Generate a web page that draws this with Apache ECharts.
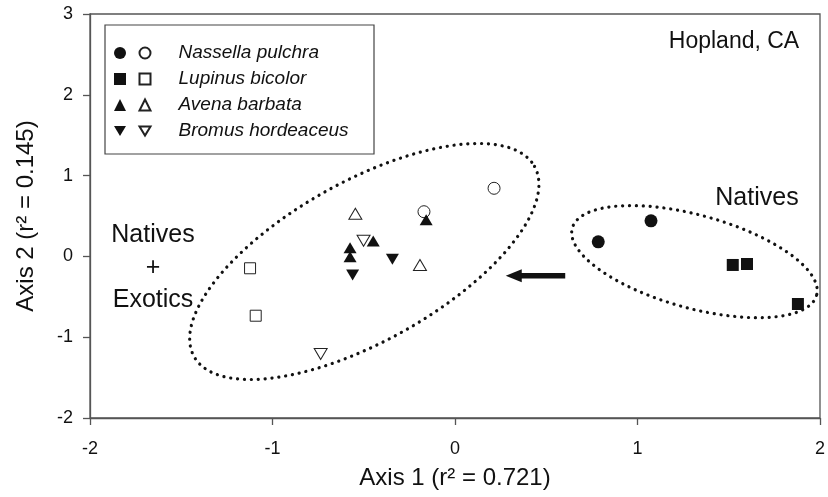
<!DOCTYPE html>
<html>
<head>
<meta charset="utf-8">
<script src="https://cdn.jsdelivr.net/npm/echarts@6/dist/echarts.min.js"></script>
<style>
  html, body { margin: 0; padding: 0; background: #fff; }
  #chart { width: 828px; height: 497px; }
</style>
</head>
<body>
<div id="chart"></div>
<script>
// ---------- data ----------
const species = ['Nassella pulchra', 'Lupinus bicolor', 'Avena barbata', 'Bromus hordeaceus'];
// filled symbols (natives-only plots) and open symbols (natives + exotics plots)
const nassellaFilled = [[0.785, 0.18], [1.074, 0.44]];
const nassellaOpen   = [[0.214, 0.843], [-0.170, 0.553]];
const lupinusFilled  = [[1.522, -0.106], [1.600, -0.094], [1.879, -0.589]];
const lupinusOpen    = [[-1.123, -0.147], [-1.092, -0.734]];
const avenaFilled    = [[-0.158, 0.454], [-0.448, 0.19], [-0.575, 0.108], [-0.575, -0.004]];
const avenaOpen      = [[-0.546, 0.527], [-0.192, -0.106]];
const bromusFilled   = [[-0.343, -0.036], [-0.561, -0.23]];
const bromusOpen     = [[-0.501, 0.194], [-0.736, -1.208]];

const xTicks = [-2, -1, 0, 1, 2];
const yTicks = [-2, -1, 0, 1, 2, 3];

// group outlines (ellipse centres, data units) and arrow (from -> to, data units)
const ellipseCenters = [[-0.497, -0.063], [1.312, -0.065]];
const arrowLine = [[0.604, -0.239, 0.278, -0.239]];

// ---------- styles ----------
const FONT = "'Liberation Sans', Arial, Helvetica, sans-serif";
const ELLIPSE_STYLE = [
  { a: 195, b: 80, angle: 29.2 },
  { a: 126.7, b: 46.5, angle: -15.4 }
];
const INK = '#111';
const DOWN_TRI = 'path://M0,0L12,0L6,10Z';

function filledSeries(name, data, symbol, size, rotate) {
  return {
    name: name, type: 'scatter', data: data, symbol: symbol, symbolSize: size,
    symbolRotate: rotate || 0, itemStyle: { color: INK, opacity: 1 }, z: 5
  };
}
function openSeries(name, data, symbol, size, rotate) {
  return {
    name: name, type: 'scatter', data: data, symbol: symbol, symbolSize: size,
    symbolRotate: rotate || 0,
    itemStyle: { color: '#fff', borderColor: '#222', borderWidth: 1, opacity: 1 }, z: 4
  };
}

const filledNames = species.map(s => s + ' (natives)');
const symbols = ['circle', 'rect', 'triangle', 'triangle'];
const rotations = [0, 0, 0, 180];
const sizes = [13, 12, [13, 11], [13, 11]];
const openSizes = [12, 11, [13, 11], [13, 11]];
const filledData = [nassellaFilled, lupinusFilled, avenaFilled, bromusFilled];
const openData = [nassellaOpen, lupinusOpen, avenaOpen, bromusOpen];

const series = [];
species.forEach((s, i) => {
  series.push(filledSeries(filledNames[i], filledData[i], symbols[i], sizes[i], rotations[i]));
  series.push(openSeries(s, openData[i], symbols[i], openSizes[i], rotations[i]));
});

series.push({
  type: 'custom', coordinateSystem: 'cartesian2d', data: ellipseCenters, silent: true, z: 2,
  encode: { x: 0, y: 1 },
  renderItem: function (params, api) {
    const c = api.coord([api.value(0), api.value(1)]);
    const st = ELLIPSE_STYLE[params.dataIndex];
    const th = st.angle * Math.PI / 180;
    const pts = [];
    const n = 240;
    for (let i = 0; i < n; i++) {
      const t = i / n * 2 * Math.PI;
      const ex = st.a * Math.cos(t), ey = st.b * Math.sin(t);
      pts.push([c[0] + ex * Math.cos(th) + ey * Math.sin(th), c[1] - ex * Math.sin(th) + ey * Math.cos(th)]);
    }
    return {
      type: 'polygon', shape: { points: pts },
      style: { fill: 'none', stroke: INK, lineWidth: 3.2, lineDash: [0.1, 6.8], lineCap: 'round' }
    };
  }
});

series.push({
  type: 'custom', coordinateSystem: 'cartesian2d', data: arrowLine, silent: true, z: 3,
  encode: { x: [0, 2], y: [1, 3] },
  renderItem: function (params, api) {
    const p1 = api.coord([api.value(0), api.value(1)]);
    const p2 = api.coord([api.value(2), api.value(3)]);
    const headLen = 16, headHalf = 6.5;
    return {
      type: 'group',
      children: [
        { type: 'line', shape: { x1: p1[0], y1: p1[1], x2: p2[0] + headLen - 1, y2: p2[1] },
          style: { stroke: INK, lineWidth: 5.5 } },
        { type: 'polygon', shape: { points: [[p2[0], p2[1]], [p2[0] + headLen, p2[1] - headHalf], [p2[0] + headLen, p2[1] + headHalf]] },
          style: { fill: INK } }
      ]
    };
  }
});

const axisCommon = {
  axisLine: { show: true, onZero: false, lineStyle: { color: '#555', width: 1.3 } },
  axisTick: { show: true, inside: false, length: 7, lineStyle: { color: '#555', width: 1.3 } },
  splitLine: { show: false },
  nameTextStyle: { fontFamily: FONT, fontSize: 24, color: INK },
};

const legendFilledData = filledNames.map((n, i) => (rotations[i] === 180 ? { name: n, icon: DOWN_TRI } : { name: n }));
const legendOpenData = species.map((n, i) => (rotations[i] === 180 ? { name: n, icon: DOWN_TRI } : { name: n }));

const chart = echarts.init(document.getElementById('chart'), null, { renderer: 'canvas' });
chart.setOption({
  animation: false,
  backgroundColor: '#fff',
  grid: { left: 90, right: 4, top: 14, bottom: 79, show: true, borderColor: '#555', borderWidth: 1.3, containLabel: false },
  xAxis: Object.assign({}, axisCommon, {
    type: 'value', min: xTicks[0], max: xTicks[xTicks.length - 1], interval: xTicks[1] - xTicks[0],
    name: 'Axis 1 (r² = 0.721)', nameLocation: 'middle', nameGap: 48,
    axisLabel: { fontFamily: FONT, fontSize: 18, color: INK, margin: 22, showMinLabel: true, showMaxLabel: true }
  }),
  yAxis: Object.assign({}, axisCommon, {
    type: 'value', min: yTicks[0], max: yTicks[yTicks.length - 1], interval: yTicks[1] - yTicks[0],
    name: 'Axis 2 (r² = 0.145)', nameLocation: 'middle', nameGap: 52, nameRotate: 90,
    axisLabel: { fontFamily: FONT, fontSize: 18, color: INK, margin: 17 }
  }),
  legend: [
    {
      data: legendFilledData, orient: 'vertical', left: 114, top: 43, padding: 0,
      itemWidth: 12, itemHeight: 12, itemGap: 6, selectedMode: false,
      formatter: function () { return ' '; },
      textStyle: { fontFamily: FONT, fontSize: 19, lineHeight: 20 }
    },
    {
      data: legendOpenData, orient: 'vertical', left: 138.5, top: 43, padding: 0,
      itemWidth: 11, itemHeight: 11, itemGap: 6, selectedMode: false,
      textStyle: { fontFamily: FONT, fontSize: 19, fontStyle: 'italic', lineHeight: 20, color: INK, padding: [0, 0, 0, 23] }
    }
  ],
  graphic: [
    { type: 'rect', silent: true, z: 1,
      shape: { x: 105, y: 25, width: 269, height: 129 },
      style: { fill: '#fff', stroke: '#444', lineWidth: 1.2 } },
    { type: 'text', x: 734, y: 42, silent: true, z: 10,
      style: { text: 'Hopland, CA', font: '23px ' + FONT, fill: INK, textAlign: 'center', textVerticalAlign: 'middle' } },
    { type: 'text', x: 757, y: 198, silent: true, z: 10,
      style: { text: 'Natives', font: '25px ' + FONT, fill: INK, textAlign: 'center', textVerticalAlign: 'middle' } },
    { type: 'text', x: 153, y: 268, silent: true, z: 10,
      style: { text: 'Natives\n+\nExotics', font: '25px ' + FONT, lineHeight: 32.5, fill: INK, textAlign: 'center', textVerticalAlign: 'middle' } }
  ],
  series: series
});
</script>
</body>
</html>
